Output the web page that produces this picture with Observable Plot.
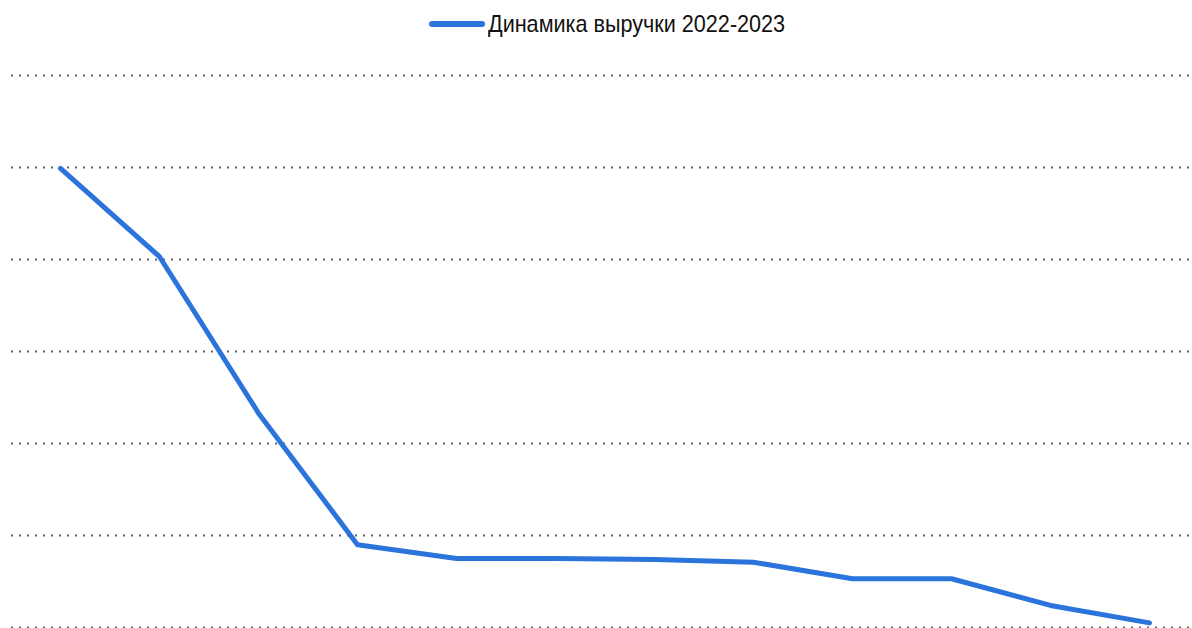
<!DOCTYPE html>
<html>
<head>
<meta charset="utf-8">
<script src="https://cdn.jsdelivr.net/npm/d3@7"></script>
<script src="https://cdn.jsdelivr.net/npm/@observablehq/plot@0.6"></script>
<style>
  html, body { margin: 0; padding: 0; background: #fff; }
  #legend { height: 48px; position: relative; font-family: "Liberation Sans", Arial, sans-serif; font-size: 24px; color: #111; }
  #legend .sw { position: absolute; left: 429px; top: 21px; width: 56px; height: 6px; border-radius: 3px; background: #2a74dc; }
  #legend .tx { position: absolute; left: 488px; top: 10px; white-space: nowrap; transform: scaleX(0.9); transform-origin: 0 50%; }
</style>
</head>
<body>
<div id="legend"><span class="sw"></span><span class="tx">Динамика выручки 2022-2023</span></div>
<div id="chart"></div>
<script>
const seriesName = "Динамика выручки 2022-2023";
const periods = ["1", "2", "3", "4", "5", "6", "7", "8", "9", "10", "11", "12"];
const revenue = [49.9, 40.3, 23.3, 9.0, 7.5, 7.5, 7.4, 7.1, 5.3, 5.3, 2.4, 0.5];
const gridTicks = [0, 10, 20, 30, 40, 50, 60];

const data = periods.map((p, i) => ({period: p, value: revenue[i]}));

const chart = Plot.plot({
  width: 1192,
  height: 580,
  marginTop: 27,
  marginBottom: 1,
  marginLeft: 11,
  marginRight: 2,
  x: {type: "point", domain: periods, padding: 0, insetLeft: 49, insetRight: 41, axis: null},
  y: {domain: [0, 60], axis: null},
  marks: [
    Plot.ruleY(gridTicks, {stroke: "#555", strokeWidth: 2, strokeDasharray: "2,6", strokeOpacity: 0.9}),
    Plot.line(data, {x: "period", y: "value", stroke: "#2a74dc", strokeWidth: 5, strokeLinejoin: "round", strokeLinecap: "round"})
  ]
});
document.getElementById("chart").appendChild(chart);
</script>
</body>
</html>
